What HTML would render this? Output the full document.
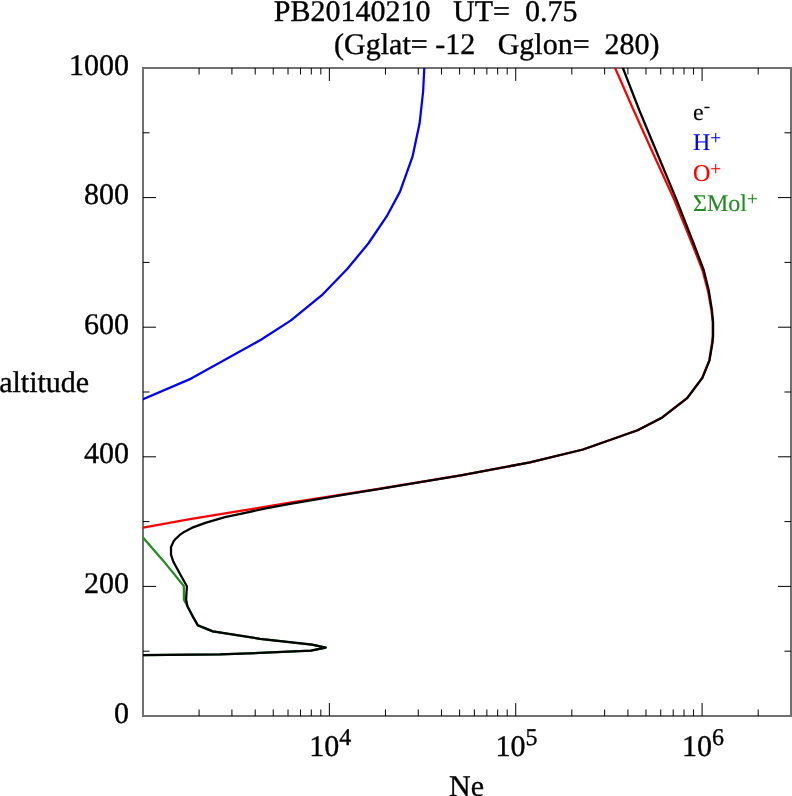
<!DOCTYPE html>
<html><head><meta charset="utf-8"><style>
html,body{margin:0;padding:0;background:#fff;}
svg{display:block;will-change:transform;}
text{font-family:"Liberation Serif","Times New Roman",serif;white-space:pre;text-rendering:geometricPrecision;stroke:currentColor;stroke-width:0.35px;}
</style></head><body>
<svg xml:space="preserve" width="792" height="796" viewBox="0 0 792 796">
<rect x="0" y="0" width="792" height="796" fill="#fff"/>
<rect x="143" y="68" width="648" height="648" fill="none" stroke="#707070" stroke-width="2"/>
<path d="M143,651.20h6.5M791,651.20h-6.5M143,586.40h13M791,586.40h-13M143,521.60h6.5M791,521.60h-6.5M143,456.80h13M791,456.80h-13M143,392.00h6.5M791,392.00h-6.5M143,327.20h13M791,327.20h-13M143,262.40h6.5M791,262.40h-6.5M143,197.60h13M791,197.60h-13M143,132.80h6.5M791,132.80h-6.5M199.10,68v6.5M199.10,716v-6.5M231.92,68v6.5M231.92,716v-6.5M255.20,68v6.5M255.20,716v-6.5M273.26,68v6.5M273.26,716v-6.5M288.02,68v6.5M288.02,716v-6.5M300.49,68v6.5M300.49,716v-6.5M311.30,68v6.5M311.30,716v-6.5M320.83,68v6.5M320.83,716v-6.5M329.36,68v13M329.36,716v-13M385.46,68v6.5M385.46,716v-6.5M418.28,68v6.5M418.28,716v-6.5M441.56,68v6.5M441.56,716v-6.5M459.62,68v6.5M459.62,716v-6.5M474.38,68v6.5M474.38,716v-6.5M486.85,68v6.5M486.85,716v-6.5M497.66,68v6.5M497.66,716v-6.5M507.19,68v6.5M507.19,716v-6.5M515.72,68v13M515.72,716v-13M571.82,68v6.5M571.82,716v-6.5M604.64,68v6.5M604.64,716v-6.5M627.92,68v6.5M627.92,716v-6.5M645.98,68v6.5M645.98,716v-6.5M660.74,68v6.5M660.74,716v-6.5M673.22,68v6.5M673.22,716v-6.5M684.02,68v6.5M684.02,716v-6.5M693.56,68v6.5M693.56,716v-6.5M702.08,68v13M702.08,716v-13M758.18,68v6.5M758.18,716v-6.5" stroke="#000" stroke-width="1" fill="none"/>
<g clip-path="url(#c)"><path d="M143.0,399.2 L191.1,378.6 L260.9,339.8 L290.6,320.6 L322.8,294.3 L347.2,269.0 L368.3,243.5 L386.8,216.2 L400.0,191.6 L412.5,156.7 L419.6,123.3 L423.1,91.7 L424.3,68.0" stroke="#0000ff" stroke-width="2.25" fill="none" stroke-linejoin="round" stroke-linecap="round"/>
<path d="M615.1,68.0 L633.5,110.0 L653.8,155.0 L674.4,200.0 L692.6,245.0 L702.4,270.0 L708.2,292.0 L711.4,310.0 L712.7,322.0 L712.7,336.2 L712.2,342.0 L709.3,360.3 L702.2,377.9 L687.1,398.2 L662.3,417.4 L637.6,430.3 L583.0,449.5 L530.0,462.4 L460.8,475.3 L380.0,488.6 L340.0,494.8 L290.0,502.7 L190.0,519.1 L143.0,527.6" stroke="#ff0000" stroke-width="2.25" fill="none" stroke-linejoin="round" stroke-linecap="round"/>
<path d="M143.0,537.6 L163.4,560.9 L183.8,586.0 L183.9,599.8 L197.8,625.4 L212.8,631.4 L260.0,638.8 L312.0,644.7 L325.7,647.6 L310.9,650.6 L260.0,652.9 L220.0,654.3 L143.0,655.2" stroke="#228b22" stroke-width="2.25" fill="none" stroke-linejoin="round" stroke-linecap="round"/>
<path d="M622.9,68.0 L639.2,110.0 L657.9,155.0 L676.6,200.0 L694.2,245.0 L703.7,270.0 L708.7,290.0 L711.9,310.0 L713.1,322.0 L713.1,336.0 L712.6,342.0 L709.5,360.3 L702.4,377.9 L687.1,398.2 L662.3,417.4 L637.6,430.3 L583.0,449.5 L530.0,462.4 L460.8,475.3 L380.0,488.8 L340.0,495.4 L315.0,499.6 L290.0,503.9 L265.8,508.4 L240.5,513.8 L225.0,517.1 L205.3,522.9 L191.7,527.9 L184.1,531.9 L179.5,535.2 L175.5,539.0 L173.6,541.2 L171.0,547.1 L171.0,554.7 L173.3,561.6 L180.2,574.2 L186.9,586.2 L186.1,599.6 L187.5,606.4 L192.5,616.1 L197.8,625.2 L212.8,631.4 L260.0,638.8 L312.0,644.7 L325.7,647.6 L310.9,650.6 L260.0,652.9 L220.0,654.3 L143.0,655.2" stroke="#000000" stroke-width="2.25" fill="none" stroke-linejoin="round" stroke-linecap="round"/>
</g><defs><clipPath id="c"><rect x="143" y="68" width="648" height="648"/></clipPath></defs>
<text x="129" y="722.5" font-size="30" text-anchor="end">0</text>
<text x="129" y="592.9" font-size="30" text-anchor="end">200</text>
<text x="129" y="463.3" font-size="30" text-anchor="end">400</text>
<text x="129" y="333.7" font-size="30" text-anchor="end">600</text>
<text x="129" y="204.1" font-size="30" text-anchor="end">800</text>
<text x="129" y="74.5" font-size="30" text-anchor="end">1000</text>
<text x="330.2" y="756" font-size="30" text-anchor="middle">10<tspan font-size="24" dy="-11.2">4</tspan></text>
<text x="516.5" y="756" font-size="30" text-anchor="middle">10<tspan font-size="24" dy="-11.2">5</tspan></text>
<text x="702.9" y="756" font-size="30" text-anchor="middle">10<tspan font-size="24" dy="-11.2">6</tspan></text>
<text x="-0.8" y="392.1" font-size="30">altitude</text>
<text x="449.1" y="795.5" font-size="30">Ne</text>
<text x="273.8" y="20.5" font-size="30">PB20140210   UT=  0.75</text>
<text x="334.1" y="54" font-size="30">(Gglat= -12   Gglon=  280)</text>
<text x="693" y="119.9" font-size="24" fill="#000" color="#000" style="stroke-width:0.12px">e<tspan font-size="19.2" dy="-8">-</tspan></text>
<text x="693" y="150.0" font-size="24" fill="#0000ff" color="#0000ff" style="stroke-width:0.12px">H<tspan font-size="19.2" dy="-6">+</tspan></text>
<text x="693" y="180.6" font-size="24" fill="#ff0000" color="#ff0000" style="stroke-width:0.12px">O<tspan font-size="19.2" dy="-6">+</tspan></text>
<text x="693" y="210.7" font-size="24" fill="#228b22" color="#228b22" style="stroke-width:0.12px">ΣMol<tspan font-size="19.2" dy="-6">+</tspan></text>
</svg></body></html>
